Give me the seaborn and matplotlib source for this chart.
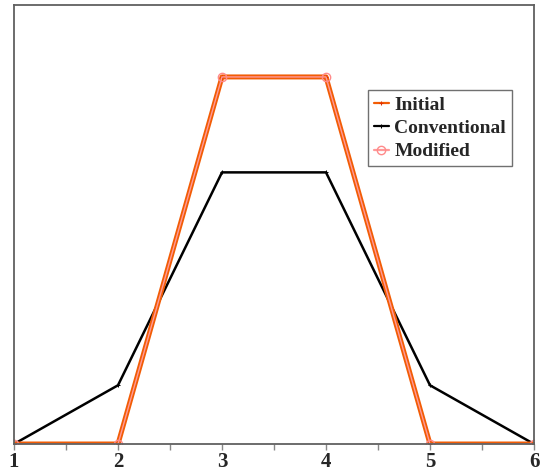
import matplotlib
matplotlib.use("Agg")
import matplotlib.pyplot as plt
import seaborn as sns
import pandas as pd
from matplotlib.ticker import MultipleLocator

x_vals = [1, 2, 3, 4, 5, 6]
initial = [0, 0, 1, 1, 0, 0]
conventional = [0, 0.16, 0.74, 0.74, 0.16, 0]
modified = [0, 0, 1, 1, 0, 0]
x_ticks = [1, 2, 3, 4, 5, 6]

sns.set_style("white")
plt.rcParams['font.family'] = ['Liberation Serif', 'DejaVu Serif']

fig = plt.figure(figsize=(5.41, 4.75), dpi=100)
ax = fig.add_axes([14/541, 31/475, 520/541, 439/475])

df = pd.DataFrame({"x": x_vals, "Initial": initial,
                   "Conventional": conventional, "Modified": modified})

sns.lineplot(data=df, x="x", y="Conventional", ax=ax, color="black",
             linewidth=1.8, label="Conventional", marker="+", markersize=3,
             markeredgecolor="black")
sns.lineplot(data=df, x="x", y="Initial", ax=ax, color="#f25c05",
             linewidth=3.6, label="Initial", marker="+", markersize=3,
             markeredgecolor="#e03000")
sns.lineplot(data=df, x="x", y="Modified", ax=ax, color="#ff9a9a",
             linewidth=1.0, label="Modified", marker="o", markersize=6,
             markerfacecolor="none", markeredgecolor="#ff8a8a", markeredgewidth=1)

handles, labels = ax.get_legend_handles_labels()
order = [labels.index(l) for l in ["Initial", "Conventional", "Modified"]]
leg = ax.legend([handles[i] for i in order], [labels[i] for i in order],
                loc="upper left", bbox_to_anchor=(0.681, 0.806), borderaxespad=0,
                prop={"family": "Liberation Serif", "weight": "bold", "size": 14},
                handlelength=0.75, handletextpad=0.3, borderpad=0.3,
                labelspacing=0.3, frameon=True, fancybox=False, framealpha=1)
leg.get_frame().set_edgecolor("#707070")
leg.get_frame().set_linewidth(1.0)
for h in leg.legend_handles:
    h.set_linewidth(1.6)

ax.set_xlim(1, 6)
ax.set_ylim(0, 1.196)
ax.set_xticks(x_ticks)
ax.set_xticklabels([str(t) for t in x_ticks], fontweight="bold", fontsize=15)
ax.xaxis.set_minor_locator(MultipleLocator(0.5))
ax.tick_params(axis="x", which="both", direction="out", length=4, width=1,
               color="#888888", bottom=True, pad=2)
ax.set_yticks([])
ax.set_xlabel("")
ax.set_ylabel("")
for s in ax.spines.values():
    s.set_color("#606060")
    s.set_linewidth(1.3)
    s.set_visible(True)

fig.savefig("out.png", dpi=100)
